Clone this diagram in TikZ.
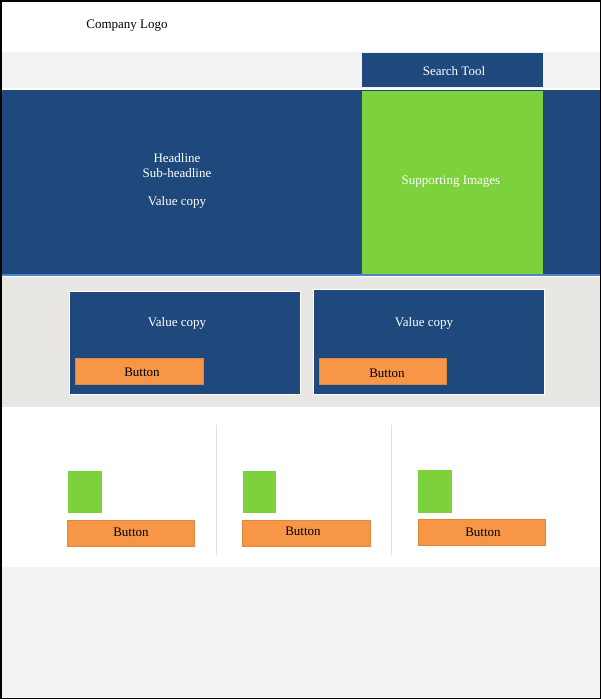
\documentclass[tikz,border=0pt]{standalone}
\usepackage{fontspec}
\setmainfont{Liberation Serif}
\definecolor{navy}{HTML}{1F497D}
\definecolor{lgreen}{HTML}{7DD13D}
\definecolor{orng}{HTML}{F79646}
\definecolor{gray1}{HTML}{F2F2F2}
\definecolor{gray2}{HTML}{E8E7E3}
\definecolor{sepline}{HTML}{E0E0E0}
\definecolor{lblue}{HTML}{4A86C5}
\begin{document}
\begin{tikzpicture}[x=1pt,y=-1pt,
  every node/.style={inner sep=0pt,outer sep=0pt,font=\fontsize{13}{15}\selectfont},
  blk/.style={fill=#1,draw=none,anchor=north west},
  bluebox/.style={blk=navy,text=white},
  greenbox/.style={blk=lgreen,text=white},
  btn/.style={blk=orng,text=black,draw=orng!90!black,line width=0.4pt},
  card/.style={blk=navy,draw=white,line width=1pt},
  txt/.style={yshift=-1.5pt},
  lbl/.style={txt,text=white}]
\useasboundingbox (0,0) rectangle (601,699);
% background bands
\fill[white] (0,0) rectangle (601,52);
\fill[gray1] (0,52) rectangle (601,88);
\fill[navy] (0,90) rectangle (601,274);
\fill[lblue] (0,274) rectangle (601,275.5);
\fill[gray2] (0,276.5) rectangle (601,407);
\fill[white] (0,407) rectangle (601,567);
\fill[gray1] (0,567) rectangle (601,699);
% header
\node[txt] (logo) at (127,24) {Company Logo};
\node[bluebox,minimum width=181pt,minimum height=34pt] (search) at (362,53) {};
\node[lbl] (searchtxt) at (454,70) {Search Tool};
% hero
\node[greenbox,minimum width=181pt,minimum height=183pt] (images) at (362,91) {};
\node[lbl] (imagestxt) at (451,180) {Supporting Images};
\node[lbl] (headline) at (177,157) {Headline};
\node[lbl] (subhead) at (177,172) {Sub-headline};
\node[lbl] (value) at (177,201) {Value copy};
% cards
\node[card,minimum width=231pt,minimum height=103pt] (card1) at (69,291) {};
\node[lbl] (card1txt) at (177,322) {Value copy};
\node[btn,minimum width=128pt,minimum height=26pt] (btn1) at (75,358) {};
\node[txt] (btn1txt) at (142,371) {Button};
\node[card,minimum width=231pt,minimum height=105pt] (card2) at (313,289) {};
\node[lbl] (card2txt) at (424,322) {Value copy};
\node[btn,minimum width=127pt,minimum height=26pt] (btn2) at (319,358) {};
\node[txt] (btn2txt) at (387,372) {Button};
% lower section separators
\coordinate (s1a) at (216,425); \coordinate (s1b) at (216,555);
\coordinate (s2a) at (391,425); \coordinate (s2b) at (391,555);
\draw[sepline,line width=0.6pt] (s1a) -- (s1b);
\draw[sepline,line width=0.6pt] (s2a) -- (s2b);
% lower features
\node[greenbox,minimum width=34pt,minimum height=42pt] (img1) at (68,471) {};
\node[greenbox,minimum width=33pt,minimum height=42pt] (img2) at (243,471) {};
\node[greenbox,minimum width=34pt,minimum height=43pt] (img3) at (418,470) {};
\node[btn,minimum width=127pt,minimum height=26pt] (btn3) at (67,520) {};
\node[txt] (btn3txt) at (131,531) {Button};
\node[btn,minimum width=128pt,minimum height=26pt] (btn4) at (242,520) {};
\node[txt] (btn4txt) at (303,530) {Button};
\node[btn,minimum width=127pt,minimum height=26pt] (btn5) at (418,519) {};
\node[txt] (btn5txt) at (483,531) {Button};
% frame
\draw[black,line width=1.5pt] (0.75,0.75) rectangle (600.25,698.25);
\end{tikzpicture}
\end{document}
